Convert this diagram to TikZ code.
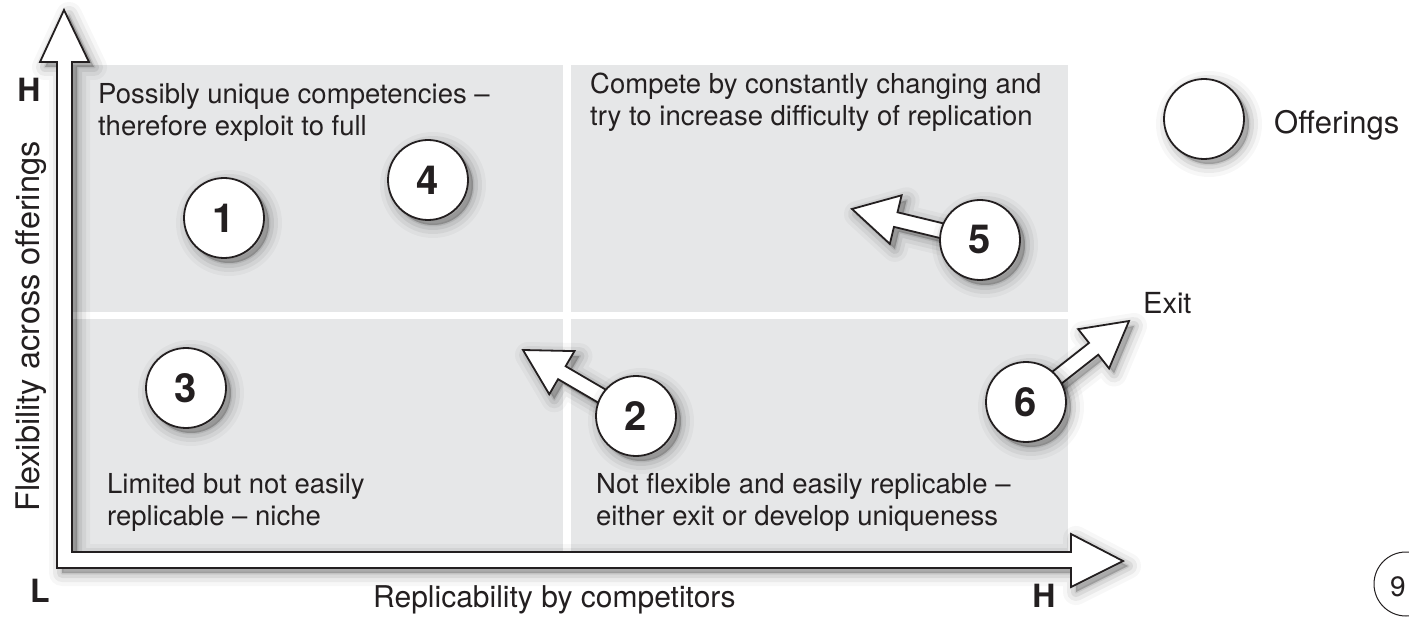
\documentclass[tikz,border=0pt]{standalone}
\usepackage{fontspec}
\setmainfont{TeX Gyre Heros}
\usetikzlibrary{calc}
\definecolor{quad}{HTML}{E6E7E8}
\definecolor{ink}{HTML}{231F20}
\tikzset{epais/.style={line width=1.8pt, draw=ink},
	softshadow/.style={
	preaction={draw=black, fill=black, opacity=0.03, line width=26pt, line join=round, transform canvas={xshift=5pt, yshift=-5pt}},
	preaction={draw=black, fill=black, opacity=0.05, line width=18pt, line join=round, transform canvas={xshift=5pt, yshift=-5pt}},
	preaction={draw=black, fill=black, opacity=0.07, line width=10pt, line join=round, transform canvas={xshift=5pt, yshift=-5pt}},
	preaction={draw=black, fill=black, opacity=0.08, line width=3pt, line join=round, transform canvas={xshift=5pt, yshift=-5pt}}}}
\newcommand{\quadr}[4]{\fill[quad] (#1,#2) rectangle (#3,#4)}
\newcommand{\migrate}[2]{\coordinate (#2h) at ($(#2)!45pt!(#1)$);
	\draw[epais, fill=white, softshadow] ($(#1)!7.5pt!90:(#2)$) -- ($(#2h)!7.5pt!90:(#2)$)
	 -- ($(#2h)!25pt!90:(#2)$) -- (#2) -- ($(#2h)!25pt!-90:(#2)$)
	 -- ($(#2h)!7.5pt!-90:(#2)$) -- ($(#1)!7.5pt!-90:(#2)$) -- cycle}

\begin{document}
\begin{tikzpicture}[x=1pt, y=-1pt,
	offer/.style={circle, epais, fill=white, minimum size=80pt, inner sep=0pt, softshadow,
		font=\bfseries\fontsize{40}{40}\selectfont},
	quadtext/.style={anchor=north west, inner sep=0pt, align=left, font=\fontsize{27.5}{32}\selectfont},
	axistext/.style={inner sep=0pt, font=\fontsize{30}{36}\selectfont},
	level/.style={inner sep=0pt, font=\bfseries\fontsize{32}{32}\selectfont},
	every node/.style={text=ink}]
	\useasboundingbox (0,0) rectangle (1409,620);
%Quadrants
	\quadr{73}{65}{563}{312};
	\quadr{571}{65}{1068}{312};
	\quadr{73}{319}{563}{552};
	\quadr{571}{319}{1068}{552};
%Axes
	\draw[epais, fill=white, softshadow] (64,10) -- (89,62) -- (72,62) -- (72,552) -- (1071,552)
		-- (1071,534) -- (1123,561) -- (1071,587) -- (1071,568) -- (57,568) -- (57,62) -- (40,62) -- cycle;
%Moves
	\coordinate (c2) at (636,416);
	\coordinate (c5) at (980,240);
	\coordinate (c6) at (1026,402);
	\coordinate (t2) at (523,350);
	\coordinate (t5) at (852,209);
	\coordinate (t6) at (1129,321);
	\migrate{c2}{t2};
	\migrate{c5}{t5};
	\migrate{c6}{t6};
	\node[anchor=base west, inner sep=0pt, font=\fontsize{29}{34}\selectfont] (exit) at (1143,314) {Exit};
%Offerings
	\node[offer] (o1) at (224,218) {1};
	\node[offer] (o2) at (c2) {2};
	\node[offer] (o3) at (186,388) {3};
	\node[offer] (o4) at (428,180) {4};
	\node[offer] (o5) at (c5) {5};
	\node[offer] (o6) at (c6) {6};
	\node[offer] (key) at (1204,119) {};
	\node[anchor=base west, inner sep=0pt, font=\fontsize{31}{36}\selectfont] (keytext) at (1274,134) {Offerings};
%Quadrant texts
	\node[quadtext] (q1) at (98,83) {Possibly unique competencies --\\therefore exploit to full};
	\node[quadtext] (q2) at (590,73) {Compete by constantly changing and\\try to increase difficulty of replication};
	\node[quadtext] (q3) at (107,473) {Limited but not easily\\replicable -- niche};
	\node[quadtext] (q4) at (596,473) {Not flexible and easily replicable --\\either exit or develop uniqueness};
%Axis labels
	\node[axistext, anchor=base west] (xlab) at (373,607) {Replicability by competitors};
	\node[axistext, anchor=base west, rotate=90, font=\fontsize{32.5}{38}\selectfont] (ylab) at (39,512) {Flexibility across offerings};
	\node[level] (yhigh) at (29,90) {H};
	\node[level] (low) at (40,591) {L};
	\node[level] (xhigh) at (1044,596) {H};
%Page
	\node[circle, draw=ink, line width=1pt, minimum size=64pt] (page) at (1406,584) {};
	\node[inner sep=0pt, font=\fontsize{28}{28}\selectfont] (pagenum) at (1398,587) {9};
\end{tikzpicture}
\end{document}
